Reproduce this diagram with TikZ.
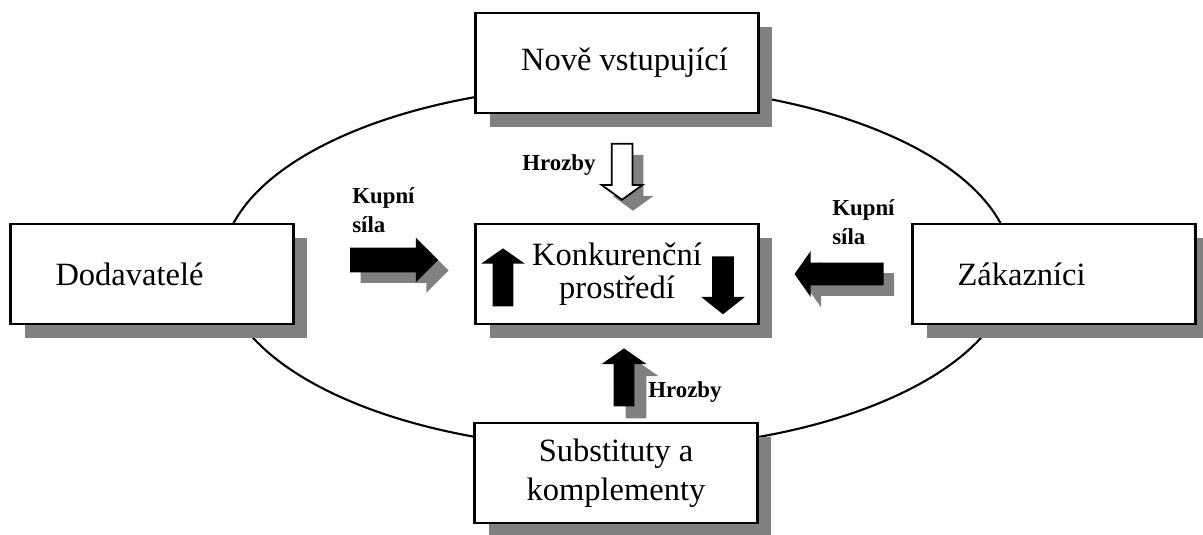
\documentclass[tikz,border=0pt]{standalone}
\usepackage{fontspec}
\setmainfont{Liberation Serif}
\usetikzlibrary{shapes.arrows,shadows}

\tikzset{
  grayshadow/.style={drop shadow={shadow xshift=#1, shadow yshift=-#1, fill=black!50, opacity=1}},
  forcebox/.style={draw, line width=1.6pt, fill=white, minimum width=5.66cm, minimum height=2cm,
    inner sep=0pt, font=\fontsize{18.5}{21}\selectfont, align=center, grayshadow=0.28cm},
  sidebox/.style={forcebox, text width=3.86cm, inner xsep=0.9cm, align=left},
  blockarrow/.style={single arrow, fill=black, single arrow head indent=0pt},
  lbl/.style={font=\bfseries\fontsize{13}{16.5}\selectfont, align=left, inner sep=0pt}
}

\begin{document}
\begin{tikzpicture}[x=0.02cm, y=-0.02cm]
\useasboundingbox (0,0) rectangle (1203,534);

% the market
\draw[line width=1.2pt] (617,267) ellipse [x radius=395, y radius=182];

% pressure arrows
\node[blockarrow, fill=white, draw, line width=1pt, grayshadow=0.22cm, shape border rotate=270,
  inner sep=0.19cm, minimum height=1.12cm, single arrow head extend=0.2cm,
  single arrow tip angle=108] (newarrow) at (622,168) {};
\node[blockarrow, grayshadow=0.21cm, inner sep=0.24cm,
  minimum height=1.76cm, single arrow head extend=0.2cm,
  single arrow tip angle=90] (supparrow) at (388,260) {};
\node[blockarrow, grayshadow=0.21cm, shape border rotate=180, inner sep=0.22cm,
  minimum height=1.78cm, single arrow head extend=0.23cm,
  single arrow tip angle=110] (custarrow) at (843,274) {};
\node[blockarrow, grayshadow=0.24cm, shape border rotate=90, inner sep=0.2cm,
  minimum height=1.16cm, single arrow head extend=0.24cm,
  single arrow tip angle=110] (subsarrow) at (624,381) {};

% the five forces
\node[forcebox] (entrants) at (617,63) {\hspace*{0.3cm}Nově vstupující};
\node[sidebox] (suppliers) at (152,274) {Dodavatelé};
\node[sidebox] (buyers) at (1054,274) {Zákazníci};
\node[forcebox, font=\fontsize{18.5}{19}\selectfont] (rivalry) at (617,274) {Konkurenční\\prostředí};
\node[forcebox, font=\fontsize{18.5}{22}\selectfont] (substitutes) at (616,473) {Substituty a\\komplementy};

% rivalry inside
\node[blockarrow, shape border rotate=90, inner sep=0.2cm,
  minimum height=1.16cm, single arrow head extend=0.23cm,
  single arrow tip angle=110] (riseup) at (503,281) {};
\node[blockarrow, shape border rotate=270, inner sep=0.21cm,
  minimum height=1.16cm, single arrow head extend=0.22cm,
  single arrow tip angle=103] (falldown) at (723,281) {};

% labels
\node[lbl] (threattop) at (559,165) {Hrozby};
\node[lbl] (threatbottom) at (685,392) {Hrozby};
\node[lbl, anchor=west] (powerleft) at (352,210) {Kupní\\síla};
\node[lbl, anchor=west] (powerright) at (832,222) {Kupní\\síla};
\end{tikzpicture}
\end{document}
